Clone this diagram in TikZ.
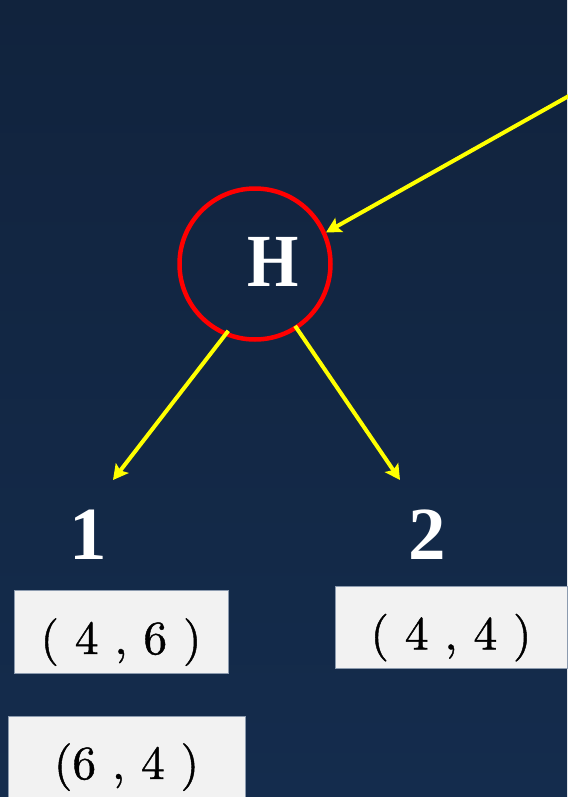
\documentclass[tikz,border=0pt]{standalone}
\usepackage{fontspec}
\newfontfamily\boldlab{Liberation Serif}
\newfontfamily\valfont{lmroman10-regular.otf}[FakeBold=0.9]
\usetikzlibrary{arrows.meta,calc}
\definecolor{bgtop}{RGB}{17,35,61}
\definecolor{bgbot}{RGB}{20,44,77}
\definecolor{boxfill}{RGB}{242,242,242}
\definecolor{boxedge}{RGB}{140,155,175}
\definecolor{ylw}{RGB}{255,255,0}
\definecolor{rd}{RGB}{255,0,0}
\begin{document}
\begin{tikzpicture}[x=1pt,y=-1pt,
  conn/.style={draw=ylw, line width=4pt, -{Stealth[length=15pt,width=16pt,inset=3pt]}},
  valbox/.style={fill=boxfill, draw=boxedge, line width=0.8pt, inner sep=0pt,
    text height=45pt, text depth=0pt, font=\valfont\fontsize{47.5}{52}\selectfont, text=black},
  numlab/.style={text=white, font=\boldlab\bfseries\fontsize{75}{80}\selectfont,
    inner sep=0pt, anchor=base},
  ring/.style={circle, draw=rd, line width=4.5pt, minimum size=151pt, inner sep=0pt}]
\shade[top color=bgtop, bottom color=bgbot] (0,0) rectangle (567,797);
\useasboundingbox (0,0) rectangle (567,797);

\node[ring] (hc) at (255,264) {};
\node[numlab] (hlab) at (273,286) {\scalebox{0.88}[1]{H}};

\node[numlab] (n1) at (88.5,559) {1};
\node[numlab] (n2) at (427,559) {2};

\node[valbox, minimum width=214pt, minimum height=83pt] (b1) at (121,631.5) {( 4 , 6 )};
\node[valbox, minimum width=232pt, minimum height=82pt] (b2) at (451,627) {( 4 , 4 )};
\node[valbox, minimum width=237pt, minimum height=81pt] (b3) at (126.5,756.5) {(6 , 4 )};

\coordinate (src) at (575,92.5);
\coordinate (t1) at (113,480);
\coordinate (t2) at (400,480);
\draw[conn] (src) -- (hc.24.6);
\draw[conn, shorten <=-6pt] (hc.247) -- (t1);
\draw[conn, shorten <=-4pt] (hc.303) -- (t2);
\end{tikzpicture}
\end{document}
